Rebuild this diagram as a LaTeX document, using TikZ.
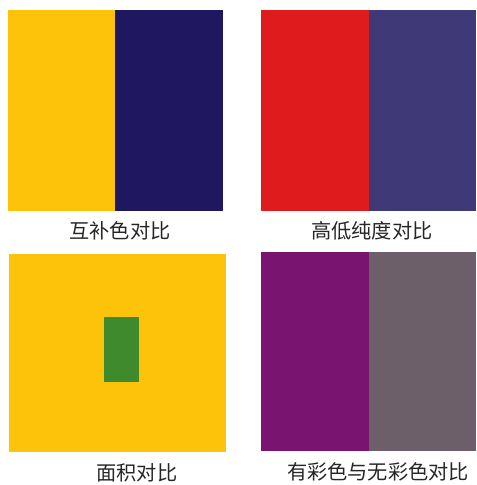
\documentclass[tikz,border=0pt]{standalone}
\usepackage{fontspec}
\newfontfamily\cjk{Noto Sans CJK SC}
\definecolor{cyellow}{HTML}{FCC30A}
\definecolor{cnavy}{HTML}{1F1760}
\definecolor{cred}{HTML}{E01B1E}
\definecolor{cslate}{HTML}{3F3A77}
\definecolor{cgreen}{HTML}{3E8A2C}
\definecolor{cpurple}{HTML}{791470}
\definecolor{cgray}{HTML}{6D5F6A}

\begin{document}
\begin{tikzpicture}[
    x=0.02cm, y=-0.02cm,
    caption/.style={font=\cjk\fontsize{11.5}{13}\selectfont, text=black!85, inner sep=0pt}
]
    \useasboundingbox (0,0) rectangle (477,485);

    % complementary contrast
    \fill[cyellow] (8,10) rectangle (115,211);
    \fill[cnavy] (115,10) rectangle (223,211);
    \node[caption] (cap1) at (120,231) {互补色对比};

    % purity contrast
    \fill[cred] (261,10) rectangle (369,211);
    \fill[cslate] (369,10) rectangle (476,211);
    \node[caption] (cap2) at (372,231) {高低纯度对比};

    % area contrast
    \fill[cyellow] (9,254) rectangle (226,452);
    \fill[cgreen] (104,317) rectangle (139,382);
    \node[caption] (cap3) at (137,473) {面积对比};

    % chromatic vs achromatic
    \fill[cpurple] (261,252) rectangle (369,451);
    \fill[cgray] (369,252) rectangle (476,451);
    \node[caption] (cap4) at (378,472) {有彩色与无彩色对比};

\end{tikzpicture}
\end{document}
